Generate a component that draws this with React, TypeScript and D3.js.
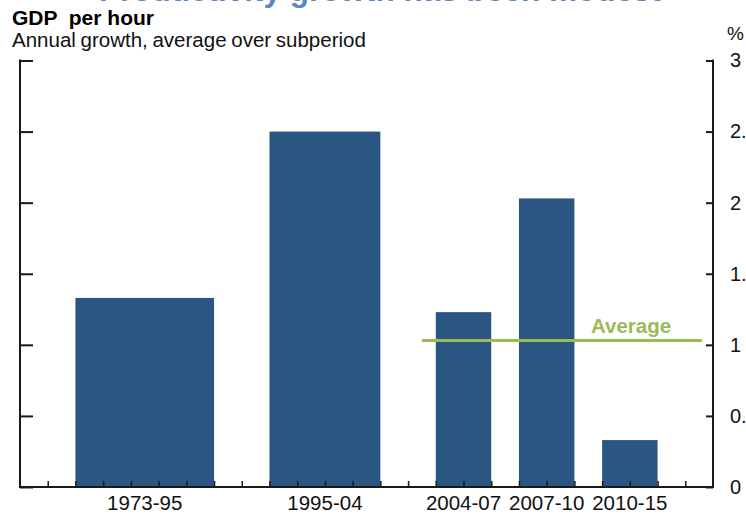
import React, { useEffect, useRef } from 'react';
import * as d3 from 'd3';

// subperiods and their average annual growth (%)
const categories = ['1973-95', '1995-04', '2004-07', '2007-10', '2010-15'];
const growth = [1.33, 2.5, 1.23, 2.03, 0.33];
// each bar covers a run of slots on the category axis
const slotStart = [2, 9, 15, 18, 21];
const slotEnd = [7, 13, 17, 20, 23];
const slotCount = 25;
const averageGrowth = 1.03;
const averageSlots = [14.5, 24.6];
const yTicks = [0, 0.5, 1, 1.5, 2, 2.5, 3];

const FONT = '"Liberation Sans", Arial, sans-serif';

const App = () => {
  const ref = useRef<SVGSVGElement>(null);

  useEffect(() => {
    const svg = d3.select(ref.current);
    svg.selectAll('*').remove();

    const width = 746;
    const height = 514;
    const left = 20;
    const right = 713;
    const top = 60.5;
    const bottom = 487;

    const x = d3.scaleLinear().domain([0, slotCount]).range([left, right]);
    const y = d3.scaleLinear().domain([0, 3]).range([bottom, top]);

    svg.attr('width', width).attr('height', height);
    svg.append('rect').attr('width', width).attr('height', height).attr('fill', '#fff');

    // headline, mostly cropped off the top of the picture
    svg
      .append('text')
      .attr('x', 380)
      .attr('y', 0.5)
      .attr('text-anchor', 'middle')
      .attr('font-family', FONT)
      .attr('font-weight', 'bold')
      .attr('font-size', 31.5)
      .attr('fill', '#5b86c3')
      .text('Productivity growth has been modest');

    svg
      .append('text')
      .attr('x', 12)
      .attr('y', 25)
      .attr('font-family', FONT)
      .attr('font-weight', 'bold')
      .attr('font-size', 21)
      .attr('fill', '#000')
      .style('white-space', 'pre')
      .text('GDP  per hour');

    svg
      .append('text')
      .attr('x', 12)
      .attr('y', 47)
      .attr('font-family', FONT)
      .attr('font-size', 20.5)
      .attr('fill', '#111')
      .attr('word-spacing', -1)
      .text('Annual growth, average over subperiod');

    svg
      .append('text')
      .attr('x', 727)
      .attr('y', 40)
      .attr('font-family', FONT)
      .attr('font-size', 19)
      .attr('fill', '#111')
      .text('%');

    // bars
    svg
      .selectAll('.bar')
      .data(growth)
      .enter()
      .append('rect')
      .attr('class', 'bar')
      .attr('x', (d, i) => x(slotStart[i]))
      .attr('width', (d, i) => x(slotEnd[i]) - x(slotStart[i]))
      .attr('y', d => y(d))
      .attr('height', d => y(0) - y(d))
      .attr('fill', '#2b5582');

    // average line
    svg
      .append('line')
      .attr('x1', x(averageSlots[0]))
      .attr('x2', x(averageSlots[1]))
      .attr('y1', y(averageGrowth))
      .attr('y2', y(averageGrowth))
      .attr('stroke', '#9bbb59')
      .attr('stroke-width', 3);

    svg
      .append('text')
      .attr('x', 591)
      .attr('y', y(averageGrowth) - 8)
      .attr('font-family', FONT)
      .attr('font-weight', 'bold')
      .attr('font-size', 20.5)
      .attr('fill', '#9bbb59')
      .text('Average');

    // left axis
    const leftAxis = svg
      .append('g')
      .attr('transform', 'translate(' + left + ',0)')
      .call(d3.axisRight(y).tickValues(yTicks).tickSize(13).tickFormat(() => ''));
    leftAxis.select('.domain').remove();
    leftAxis.append('line').attr('y1', top - 1).attr('y2', bottom + 1);

    // right axis, labels run past the picture edge as in the original
    const rightAxis = svg
      .append('g')
      .attr('transform', 'translate(' + right + ',0)')
      .call(d3.axisRight(y).tickValues(yTicks).tickSize(0).tickPadding(17).tickFormat(d3.format('')));
    rightAxis.select('.domain').remove();
    rightAxis.append('line').attr('y1', top - 1).attr('y2', bottom + 1);
    rightAxis
      .selectAll('.tick')
      .append('line')
      .attr('x1', -7)
      .attr('x2', 0);

    // bottom axis with a small tick at every slot boundary
    const bottomAxis = svg
      .append('g')
      .attr('transform', 'translate(0,' + bottom + ')')
      .call(
        d3
          .axisTop(x)
          .tickValues(d3.range(1, slotCount))
          .tickSize(6)
          .tickFormat(() => '')
      );
    bottomAxis.select('.domain').remove();
    bottomAxis.append('line').attr('x1', left - 1).attr('x2', right + 1);

    [leftAxis, rightAxis, bottomAxis].forEach(g => {
      g.selectAll('line').attr('stroke', '#1a1a1a').attr('stroke-width', 2);
    });
    bottomAxis.selectAll('.tick line').attr('stroke-width', 1.5);

    rightAxis
      .selectAll('text')
      .attr('font-family', FONT)
      .attr('font-size', 20)
      .attr('fill', '#111');

    // category labels
    svg
      .selectAll('.cat')
      .data(categories)
      .enter()
      .append('text')
      .attr('class', 'cat')
      .attr('x', (d, i) => x((slotStart[i] + slotEnd[i]) / 2))
      .attr('y', 510)
      .attr('text-anchor', 'middle')
      .attr('font-family', FONT)
      .attr('font-size', 20.5)
      .attr('fill', '#111')
      .text(d => d);
  }, []);

  return (
    <div style={{ position: 'absolute', left: 0, top: 0 }}>
      <svg ref={ref} style={{ display: 'block' }} />
    </div>
  );
};

export default App;
